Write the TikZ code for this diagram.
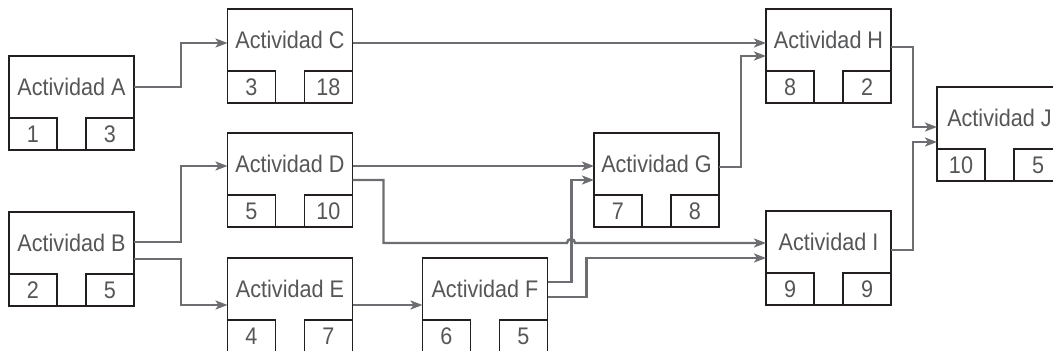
\documentclass[tikz,border=0pt]{standalone}
\usepackage{fontspec}
\setmainfont{Liberation Sans}[FakeStretch=0.9]
\usetikzlibrary{arrows.meta,calc}
\definecolor{linegray}{HTML}{6D6E71}
\definecolor{textgray}{HTML}{555658}
\definecolor{boxblack}{HTML}{231F20}

\begin{document}
\begin{tikzpicture}[
  x=1pt, y=-1pt,
  font=\fontsize{24}{28}\selectfont,
  act/.style={draw=boxblack, line width=1.6pt, text=textgray, inner sep=0pt, outer sep=0pt,
    minimum width=125pt, minimum height=94pt, text height=17pt, text depth=32pt},
  num/.style={draw=boxblack, line width=1.6pt, text=textgray, inner sep=0pt, outer sep=0pt,
    minimum width=48pt, minimum height=32pt},
  arrow/.style={-{Stealth[length=12pt,width=9pt,inset=3pt]}, draw=linegray, line width=2.4pt}
]
\useasboundingbox (0,0) rectangle (1053,351);
\clip (0,0) rectangle (1053,351);

\node[act, label={[num,anchor=south west]south west:1}, label={[num,anchor=south east]south east:3}] (A) at (71.5,103) {Actividad A};
\node[act, label={[num,anchor=south west]south west:2}, label={[num,anchor=south east]south east:5}] (B) at (71.5,259) {Actividad B};
\node[act, label={[num,anchor=south west]south west:3}, label={[num,anchor=south east]south east:18}] (C) at (290,56) {Actividad C};
\node[act, label={[num,anchor=south west]south west:5}, label={[num,anchor=south east]south east:10}] (D) at (290,180) {Actividad D};
\node[act, label={[num,anchor=south west]south west:4}, label={[num,anchor=south east]south east:7}] (E) at (290,305) {Actividad E};
\node[act, label={[num,anchor=south west]south west:6}, label={[num,anchor=south east]south east:5}] (F) at (485,305) {Actividad F};
\node[act, label={[num,anchor=south west]south west:7}, label={[num,anchor=south east]south east:8}] (G) at (656.5,180) {Actividad G};
\node[act, label={[num,anchor=south west]south west:8}, label={[num,anchor=south east]south east:2}] (H) at (828.5,56) {Actividad H};
\node[act, label={[num,anchor=south west]south west:9}, label={[num,anchor=south east]south east:9}] (I) at (828.5,258) {Actividad I};
\node[act, label={[num,anchor=south west]south west:10}, label={[num,anchor=south east]south east:5}] (J) at (999.5,134) {Actividad J};

% crossing point of D->I over F->G
\coordinate (jump) at (571,243);

\draw[arrow] ([yshift=16pt]A.east) -- ++(47,0) |- ([yshift=13pt]C.west);
\draw[arrow] ([yshift=13pt]C.east) -- ([yshift=13pt]H.west);
\draw[arrow] ([yshift=17pt]B.east) -- ++(47,0) |- ([yshift=14pt]D.west);
\draw[arrow] (B.east) -- ++(47,0) |- (E.west);
\draw[arrow] ([yshift=14pt]D.east) -- ([yshift=14pt]G.west);
\draw[arrow] (D.east) -- ++(31,0) |- ([xshift=-4pt]jump)
  arc[start angle=180, end angle=0, radius=4pt] -- ([yshift=15pt]I.west);
\draw[arrow] (E.east) -- (F.west);
\draw[arrow] ([yshift=23pt]F.east) -- ++(24,0) |- (G.west);
\draw[arrow] ([yshift=8pt]F.east) -- ++(39,0) |- (I.west);
\draw[arrow] ([yshift=13pt]G.east) -- ++(22,0) |- (H.west);
\draw[arrow] ([yshift=9pt]H.east) -- ++(22,0) |- ([yshift=7pt]J.west);
\draw[arrow] ([yshift=8pt]I.east) -- ++(22,0) |- ([yshift=-8pt]J.west);

\end{tikzpicture}
\end{document}
